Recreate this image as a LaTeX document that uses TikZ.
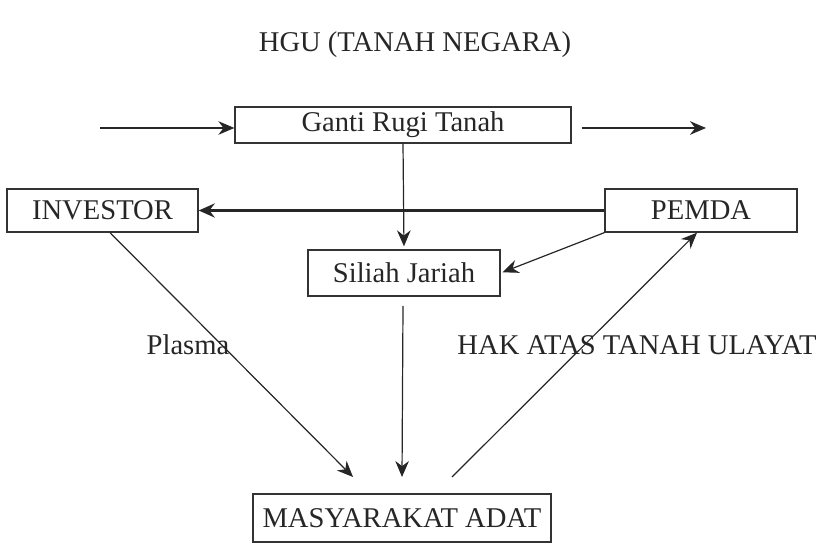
\documentclass[tikz,border=0pt]{standalone}
\usepackage{fontspec}
\setmainfont{Liberation Serif}
\usetikzlibrary{arrows.meta}
\begin{document}
\begin{tikzpicture}[x=0.5pt,y=-0.5pt,
  every node/.style={font=\fontsize{14.3}{17}\selectfont, text=black!85},
  box/.style={draw=black!80, line width=0.65pt, inner sep=0pt},
  conn/.style={draw=black!85, line width=0.6pt, -{Stealth[length=8pt,width=6.8pt]}},
  thick/.style={draw=black!85, line width=1.5pt, -{Stealth[length=8pt,width=7pt]}}]
\useasboundingbox (0,0) rectangle (828,544);
\node (title) at (415,45) {HGU (TANAH NEGARA)};
\node[box, minimum width=168pt, minimum height=18pt] (ganti) at (403,125) {\raisebox{-1pt}{Ganti Rugi Tanah}};
\node[box, minimum width=95.5pt, minimum height=21.5pt] (investor) at (102.5,210.5) {INVESTOR};
\node[box, minimum width=96pt, minimum height=21.5pt] (pemda) at (701,210.5) {PEMDA};
\node[box, minimum width=96pt, minimum height=23pt] (siliah) at (404,273) {Siliah Jariah};
\node[box, minimum width=149pt, minimum height=24pt] (masy) at (402,518) {MASYARAKAT ADAT};
\node (plasma) at (188,345) {Plasma};
\node (hak) at (637,345) {HAK ATAS TANAH ULAYAT};
% free ends
\coordinate (la) at (100,128);
\coordinate (ra) at (706,128);
\coordinate (m1) at (353,477);
\coordinate (m2) at (402,477);
\coordinate (m3) at (452,477);
\coordinate (s1) at (403,306);
% connectors
\draw[conn] (la) -- (ganti.west |- la);
\draw[conn] ([xshift=5pt]ganti.east |- ra) -- (ra);
\draw[conn, shorten >=1.5pt] (ganti.south) -- (siliah.north);
\draw[thick] (pemda.west) -- (investor.east);
\draw[conn, shorten >=1pt] (pemda.south west) -- (siliah.east);
\draw[conn] ([xshift=3.75pt]investor.south) -- (m1);
\draw[conn] (s1) -- (m2);
\draw[conn] (m3) -- ([xshift=-2pt]pemda.south);
\end{tikzpicture}
\end{document}
